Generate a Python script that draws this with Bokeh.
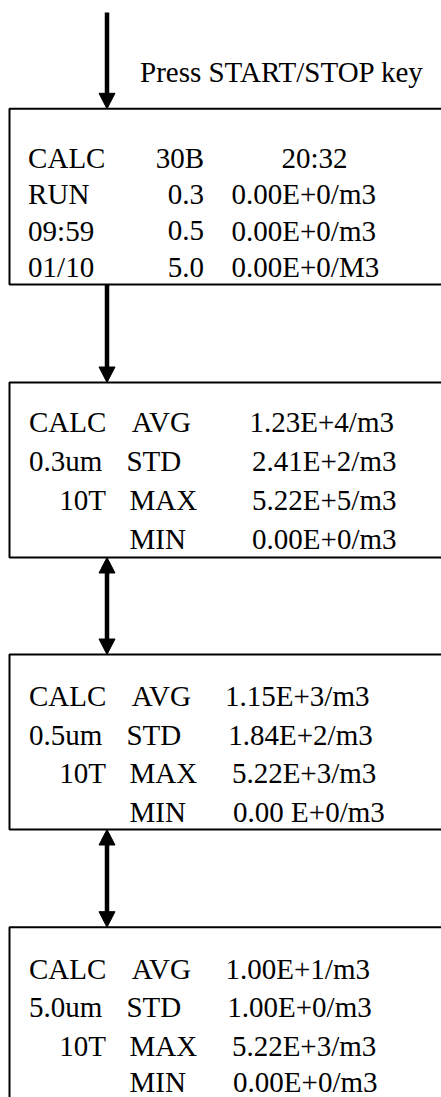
from bokeh.plotting import figure
from bokeh.models import Range1d, ColumnDataSource
from bokeh.core.properties import value
from bokeh.embed import file_html
from bokeh.resources import INLINE

# ---------------- content ----------------
press_label = "Press START/STOP key"

screen1_col1 = ["CALC", "RUN", "09:59", "01/10"]
screen1_col2 = ["30B", "0.3", "0.5", "5.0"]
screen1_col3 = ["20:32", "0.00E+0/m3", "0.00E+0/m3", "0.00E+0/M3"]

stat_names = ["AVG", "STD", "MAX", "MIN"]
calc_col1_03 = ["CALC", "0.3um", "", ""]
calc_col1_05 = ["CALC", "0.5um", "", ""]
calc_col1_50 = ["CALC", "5.0um", "", ""]
time_label = "10T"
values_03 = ["1.23E+4/m3", "2.41E+2/m3", "5.22E+5/m3", "0.00E+0/m3"]
values_05 = ["1.15E+3/m3", "1.84E+2/m3", "5.22E+3/m3", "0.00 E+0/m3"]
values_50 = ["1.00E+1/m3", "1.00E+0/m3", "5.22E+3/m3", "0.00E+0/m3"]

# ---------------- layout (page pixels) ----------------
W, H = 441, 1097
FONT = value("Liberation Serif")
FS = "29px"

box_top = [108.3, 382.0, 654.0, 926.7]
box_bot = [284.0, 557.0, 829.0, 1120.0]
box_left, box_right = 9.0, 470.0

baselines = [
    [157.0, 193.5, 230.0, 266.5],
    [421.7, 460.0, 499.3, 538.3],
    [695.0, 734.0, 772.7, 811.7],
    [968.3, 1006.7, 1045.0, 1081.0],
]

arrow_x = 106.5
head_w, head_h = 16.0, 15.5
# (y_from, y_to, head at from, head at to)
arrows = [
    (12.0, box_top[0], False, True),
    (box_bot[0], box_top[1], False, True),
    (box_bot[1], box_top[2], True, True),
    (box_bot[2], box_top[3], True, True),
]

p = figure(width=W, height=H, output_backend="svg", toolbar_location=None,
           x_range=Range1d(0, W), y_range=Range1d(H, 0),
           x_axis_location=None, y_axis_location=None, min_border=0)
p.grid.visible = False
p.outline_line_color = None
p.background_fill_color = "white"
p.border_fill_color = "white"

# boxes
p.quad(left=[box_left] * 4, right=[box_right] * 4, top=box_top, bottom=box_bot,
       fill_alpha=0, line_color="black", line_width=2)

# arrows
sx0, sy0, sx1, sy1 = [], [], [], []
hx, hy = [], []
for (ya, yb, ha, hb) in arrows:
    s0 = ya + (head_h - 1 if ha else 0)
    s1 = yb - (head_h - 1 if hb else 0)
    sx0.append(arrow_x); sx1.append(arrow_x); sy0.append(s0); sy1.append(s1)
    if ha:
        hx.append([arrow_x, arrow_x - head_w / 2, arrow_x + head_w / 2])
        hy.append([ya, ya + head_h, ya + head_h])
    if hb:
        hx.append([arrow_x, arrow_x - head_w / 2, arrow_x + head_w / 2])
        hy.append([yb, yb - head_h, yb - head_h])
p.segment(x0=sx0, y0=sy0, x1=sx1, y1=sy1, line_color="black", line_width=4.5)
p.patches(xs=hx, ys=hy, fill_color="black", line_color="black", line_width=1)


def txt(xs, ys, texts, align="left"):
    src = ColumnDataSource(dict(x=xs, y=ys, t=texts))
    p.text(x="x", y="y", text="t", source=src, text_font=FONT, text_font_size=FS,
           text_color="black", text_align=align, text_baseline="alphabetic")


# press label
txt([139.5], [71.0], [press_label])

# screen 1
b = baselines[0]
txt([27.6] * 4, b, screen1_col1)
txt([203.5] * 4, b, screen1_col2, align="right")
txt([281.0, 231.0, 231.0, 231.0], b, screen1_col3)

# calc screens
col2_x = [131.3, 125.9, 129.0, 129.0]
val_x = {
    1: [249.0, 251.5, 251.5, 251.6],
    2: [224.5, 227.8, 231.4, 232.6],
    3: [225.0, 226.8, 231.4, 232.6],
}
for i, (c1, vals) in enumerate([(calc_col1_03, values_03),
                                 (calc_col1_05, values_05),
                                 (calc_col1_50, values_50)], start=1):
    b = baselines[i]
    txt([28.5, 28.5], b[:2], c1[:2])
    txt([105.5], [b[2]], [time_label], align="right")
    txt(col2_x, b, stat_names)
    txt(val_x[i], b, vals)

open("out.html", "w").write(file_html(p, INLINE))
